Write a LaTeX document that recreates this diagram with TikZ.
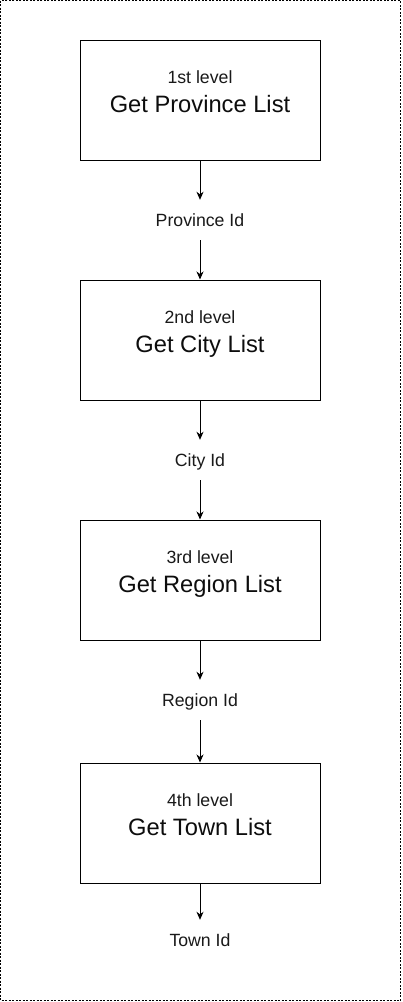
\documentclass[tikz,border=0pt]{standalone}
\usepackage{fontspec}
\setmainfont{Liberation Sans}
\usetikzlibrary{arrows.meta}
\begin{document}
\begin{tikzpicture}[x=1pt,y=-1pt,
  levelbox/.style={draw=black,line width=1pt,minimum width=240pt,minimum height=120pt,inner sep=0pt},
  idlabel/.style={inner sep=0pt,minimum height=40pt,text height=13pt,text depth=0pt,font=\fontsize{17.7}{20}\selectfont,text=black!90},
  smalltxt/.style={anchor=base,inner sep=0pt,font=\fontsize{17.7}{20}\selectfont,text=black!90},
  bigtxt/.style={anchor=base,inner sep=0pt,font=\fontsize{23.7}{27}\selectfont,text=black!95},
  flow/.style={line width=1pt,-{Stealth[length=8pt,width=7pt,inset=2.5pt]}}]
\useasboundingbox (0,0) rectangle (402,1002);
\draw[dashed,line width=0.8pt,dash pattern=on 2pt off 1.5pt] (0.5,0.5) rectangle (400.5,1000.5);
% boxes
\node[levelbox] (b1) at (200,100) {};
\node[levelbox] (b2) at (200,340) {};
\node[levelbox] (b3) at (200,580) {};
\node[levelbox] (b4) at (200,823) {};
% box texts
\node[smalltxt] (t1a) at (200,83.3) {1st level};
\node[bigtxt] (t1b) at (200,112.3) {Get Province List};
\node[smalltxt] (t2a) at (200,323.3) {2nd level};
\node[bigtxt] (t2b) at (200,352.3) {Get City List};
\node[smalltxt] (t3a) at (200,563.3) {3rd level};
\node[bigtxt] (t3b) at (200,592.3) {Get Region List};
\node[smalltxt] (t4a) at (200,806.3) {4th level};
\node[bigtxt] (t4b) at (200,835.3) {Get Town List};
% id labels
\node[idlabel] (l1) at (200,220) {Province Id};
\node[idlabel] (l2) at (200,460) {City Id};
\node[idlabel] (l3) at (200,700) {Region Id};
\node[idlabel] (l4) at (200,940) {Town Id};
% connectors
\draw[flow] (b1.south) -- (l1.north);
\draw[flow] (l1.south) -- (b2.north);
\draw[flow] (b2.south) -- (l2.north);
\draw[flow] (l2.south) -- (b3.north);
\draw[flow] (b3.south) -- (l3.north);
\draw[flow] (l3.south) -- (b4.north);
\draw[flow] (b4.south) -- (l4.north);
\end{tikzpicture}
\end{document}
